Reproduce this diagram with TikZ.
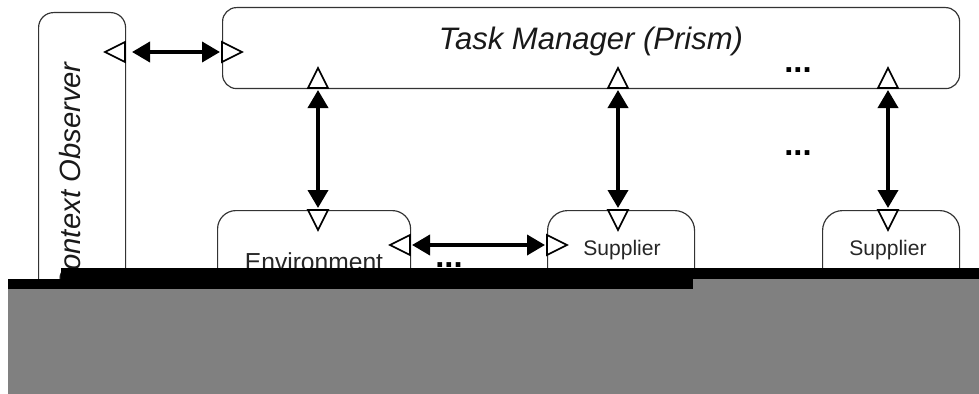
\documentclass[tikz,border=0pt]{standalone}
\usepackage{fontspec}
\setmainfont{Liberation Sans}
\usetikzlibrary{arrows.meta,positioning}
\def \pu {0.03cm}
\tikzstyle{block} = [draw=black!80,line width=1pt,rectangle,inner sep=0,anchor=north west,rounded corners=0.45cm]
\tikzstyle{link} = [{Triangle[length=0.54cm,width=0.6cm]}-{Triangle[length=0.54cm,width=0.6cm]},line width=3.2pt,shorten <=0.06cm,shorten >=0.06cm]
\tikzstyle{port} = [draw=black,line width=1.5pt,fill=white]
\tikzstyle{heading} = [font=\fontsize{26.5}{30}\selectfont\itshape,text=black!90,inner sep=0]
\tikzstyle{boxtext} = [font=\fontsize{21}{24}\selectfont,text=black!85,inner sep=0,anchor=base]
\tikzstyle{smalltext} = [font=\fontsize{18}{21}\selectfont,text=black!85,inner sep=0,anchor=base]
\tikzstyle{dots} = [font=\fontsize{28}{30}\selectfont\bfseries,inner sep=0,anchor=base]
\tikzset{porttri/.pic={\draw[port] (-10,0) -- (0,-20) -- (10,0) -- cycle;}}

\begin{document}
\begin{tikzpicture}[x=\pu,y=-\pu]
  \useasboundingbox (0,0) rectangle (979,394);
  % boxes
  \node[block,minimum width=87*\pu,minimum height=370*\pu] (obs) at (38,12) {};
  \node[block,minimum width=737*\pu,minimum height=81*\pu,rounded corners=0.42cm] (tm) at (222,7) {};
  \node[block,minimum width=193*\pu,minimum height=170*\pu,rounded corners=0.55cm] (env) at (217,210) {};
  \node[block,minimum width=147*\pu,minimum height=170*\pu,rounded corners=0.6cm] (supa) at (547,210) {};
  \node[block,minimum width=137*\pu,minimum height=170*\pu,rounded corners=0.6cm] (supb) at (822,210) {};
  % texts
  \node[heading,anchor=base] (tmtext) at (591,50) {Task Manager (Prism)};
  \node[heading,rotate=90,anchor=base east,font=\fontsize{25}{28}\selectfont\itshape] (obstext) at (80,62) {Context Observer};
  \node[boxtext] (envtext) at (314,270) {Environment};
  \node[smalltext] (supatext) at (622,255) {Supplier};
  \node[smalltext] (supbtext) at (888,255) {Supplier};
  \node[dots] (dotsa) at (798,73) {...};
  \node[dots] (dotsb) at (798,155) {...};
  \node[dots] (dotsc) at (449,267) {...};
  % ports
  \coordinate (obsE) at (125,52);
  \coordinate (tmW) at (222,52);
  \coordinate (envE) at (410,245);
  \coordinate (supaW) at (547,245);
  \pic[rotate=90] at (obsE) {porttri};
  \pic[rotate=-90] at (tmW) {porttri};
  \pic[rotate=90] at (envE) {porttri};
  \pic[rotate=-90] at (supaW) {porttri};
  \foreach \x/\n in {318/a,618/b,888/c} {
    \coordinate (tm\n) at (\x,88);
    \coordinate (low\n) at (\x,210);
    \pic at (tm\n) {porttri};
    \pic[rotate=180] at (low\n) {porttri};
    \draw[link] (tm\n) -- (low\n);
  }
  % links
  \draw[link,shorten <=0.21cm] (obsE) -- (tmW);
  \draw[link] (envE) -- (supaW);
  % cover
  \fill[black] (8,279) -- (61,279) -- (61,268) -- (979,268) -- (979,279) -- (693,279) -- (693,289) -- (8,289) -- cycle;
  \fill[gray] (8,289) -- (693,289) -- (693,279) -- (979,279) -- (979,394) -- (8,394) -- cycle;
\end{tikzpicture}
\end{document}
